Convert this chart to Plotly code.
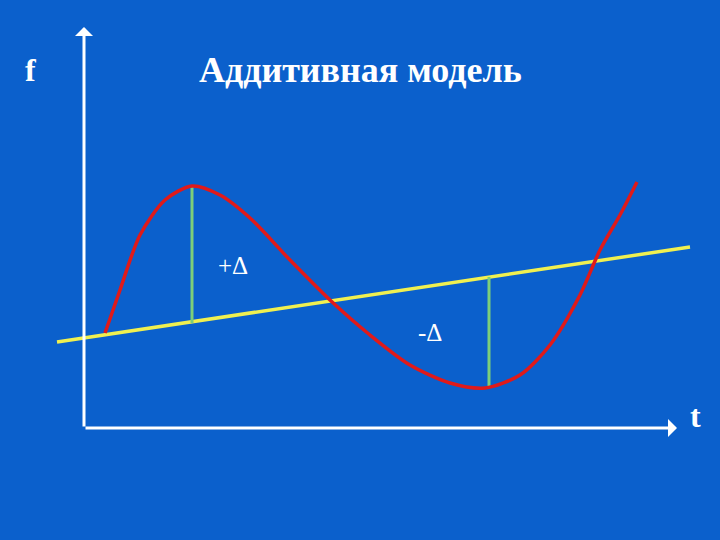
import plotly.graph_objects as go

# Data (t, f) measured from the axes origin
curve_t = [21, 36, 56, 81, 108, 136, 166, 206, 246, 286, 326, 366, 401, 436, 466, 496, 516, 536, 553]
curve_f = [95, 138, 193, 228, 242, 233, 210, 168, 128, 93, 63, 45, 40, 53, 83, 133, 178, 213, 246]
trend_t = [-27, 606]
trend_f = [86, 181]
delta_t = [108, 405]
delta_top = [242, 151]
delta_bot = [105, 40]
labels = ["+Δ", "-Δ"]
label_t = [149, 346]
label_f = [163, 96]

BG = "#0b60cc"
fig = go.Figure()

fig.add_trace(go.Scatter(x=trend_t, y=trend_f, mode="lines",
                         line=dict(color="#f0f050", width=3.5), hoverinfo="skip"))
for t, a, b in zip(delta_t, delta_top, delta_bot):
    fig.add_trace(go.Scatter(x=[t, t], y=[a, b], mode="lines",
                             line=dict(color="#7ccf7a", width=3), hoverinfo="skip"))
fig.add_trace(go.Scatter(x=curve_t, y=curve_f, mode="lines",
                         line=dict(color="#e01a1a", width=3.5, shape="spline", smoothing=0.8),
                         hoverinfo="skip"))

# axes with arrows
fig.add_annotation(x=0, y=401, ax=0, ay=0, xref="x", yref="y", axref="x", ayref="y",
                   showarrow=True, arrowhead=1, arrowsize=1, arrowwidth=3, arrowcolor="white", text="")
fig.add_annotation(x=593, y=0, ax=0, ay=0, xref="x", yref="y", axref="x", ayref="y",
                   showarrow=True, arrowhead=1, arrowsize=1, arrowwidth=3, arrowcolor="white", text="")

serif = "Liberation Serif, Times New Roman, serif"
fig.add_annotation(x=-54, y=358, xref="x", yref="y", text="<b>f</b>", showarrow=False,
                   font=dict(family=serif, size=32, color="white"))
fig.add_annotation(x=276, y=358, xref="x", yref="y", text="<b>Аддитивная модель</b>", showarrow=False,
                   font=dict(family=serif, size=36, color="white"))
fig.add_annotation(x=611, y=12, xref="x", yref="y", text="<b>t</b>", showarrow=False,
                   font=dict(family=serif, size=32, color="white"))
for s, t, f in zip(labels, label_t, label_f):
    fig.add_annotation(x=t, y=f, xref="x", yref="y", text=s, showarrow=False,
                       font=dict(family=serif, size=25, color="white"))

fig.update_layout(
    width=720, height=540, margin=dict(l=0, r=0, t=0, b=0),
    paper_bgcolor=BG, plot_bgcolor=BG, showlegend=False,
    xaxis=dict(range=[-84, 636], visible=False, fixedrange=True),
    yaxis=dict(range=[-112, 428], visible=False, fixedrange=True),
)
fig.write_html("out.html", config={"displayModeBar": False},
               post_script="document.body.style.margin='0';document.body.style.background='%s';" % BG)
